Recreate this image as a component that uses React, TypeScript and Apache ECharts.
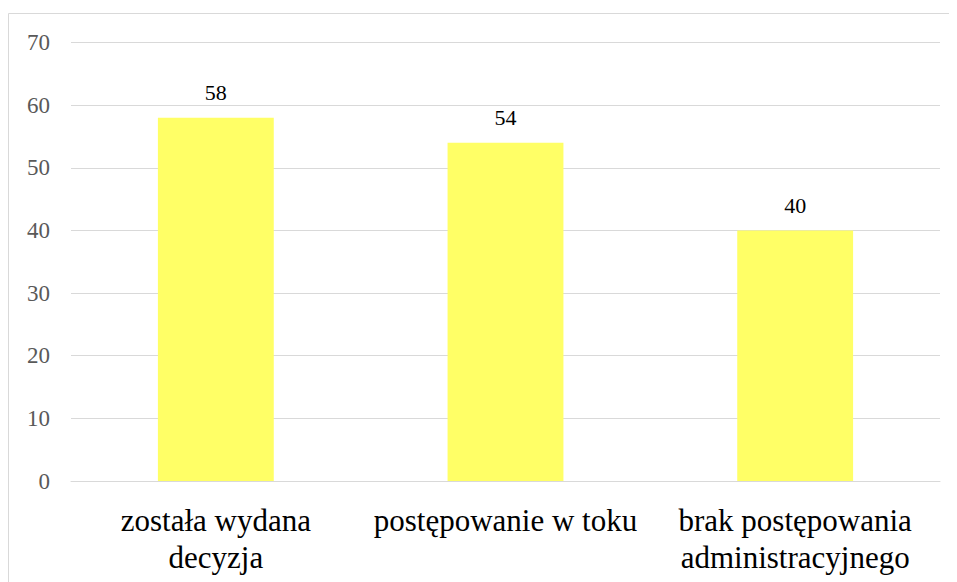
import React, { useEffect, useRef } from "react";
import * as echarts from "echarts";

const categories = ["została wydana\ndecyzja", "postępowanie w toku", "brak postępowania\nadministracyjnego"];
const values = [58, 54, 40];
const yMin = 0;
const yMax = 70;
const yStep = 10;

export default function App() {
  const ref = useRef<HTMLDivElement>(null);
  useEffect(() => {
    if (!ref.current) return;
    const chart = echarts.init(ref.current, null, { renderer: "svg" });
    const font = "Liberation Serif, Times New Roman, serif";
    chart.setOption({
      animation: false,
      textStyle: { fontFamily: font },
      grid: { left: 63, right: 17, top: 34.5, bottom: 101, containLabel: false },
      graphic: [
        {
          type: "rect",
          shape: { x: 0.5, y: 5.5, width: 1200, height: 1200 },
          style: { fill: "none", stroke: "#d9d9d9", lineWidth: 1 },
          silent: true,
        },
      ],
      xAxis: {
        type: "category",
        data: categories,
        axisLine: { show: true, lineStyle: { color: "#d9d9d9", width: 1 } },
        axisTick: { show: false },
        axisLabel: {
          color: "#000",
          fontFamily: font,
          fontSize: 31,
          lineHeight: 37,
          margin: 21,
          interval: 0,
        },
      },
      yAxis: {
        type: "value",
        min: yMin,
        max: yMax,
        interval: yStep,
        axisLine: { show: false },
        axisTick: { show: false },
        splitLine: { lineStyle: { color: "#d9d9d9", width: 1 } },
        axisLabel: { color: "#595959", fontFamily: font, fontSize: 23, margin: 21 },
      },
      series: [
        {
          type: "bar",
          data: values,
          barWidth: "40%",
          itemStyle: { color: "#FFFF66" },
          label: {
            show: true,
            position: "top",
            distance: 14,
            color: "#000",
            fontFamily: font,
            fontSize: 22,
          },
        },
      ],
    });
    return () => chart.dispose();
  }, []);
  return <div ref={ref} style={{ width: 949, height: 574 }} />;
}
